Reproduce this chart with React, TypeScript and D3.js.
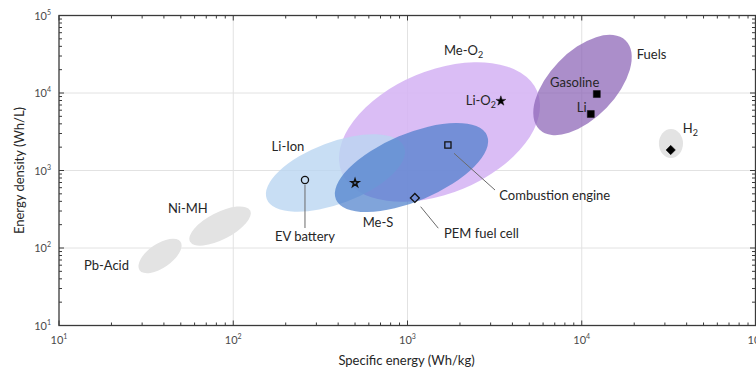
import React, { useEffect, useRef } from "react";
import * as d3 from "d3";

// Region ellipses: centre and one end of the major axis (Wh/kg, Wh/L), minor/major ratio
const regionNames = ["Pb-Acid", "Ni-MH", "H2", "Me-O2", "Li-Ion", "Me-S", "Fuels"];
const regionCx = [38, 84, 32500, 1526, 386, 1054, 10100];
const regionCy = [79, 192, 2230, 3140, 928, 1093, 12690];
const regionEx = [49.8, 125, 32500, 5551, 957, 2859, 17850];
const regionEy = [120.6, 304, 3432, 10520, 2004, 2829, 47720];
const regionRatio = [0.48, 0.4, 0.83, 0.58, 0.42, 0.41, 0.535];
const regionColors = ["#e3e3e3", "#e3e3e3", "#e3e3e3", "#d6b6f4", "#bad6f1", "#4479c8", "#8a62b6"];
const regionOpacity = [1, 1, 1, 0.9, 0.8, 0.68, 0.72];

// Point markers
const markerNames = ["EV battery", "Me-S", "Combustion engine", "PEM fuel cell", "Li-O2", "Gasoline", "Li", "H2"];
const markerX = [258, 500, 1706, 1102, 3434, 12200, 11270, 32400];
const markerY = [754, 690, 2133, 442, 7890, 9700, 5360, 1840];
const markerShape = ["circle", "starOpen", "square", "diamond", "star", "squareFilled", "squareFilled", "diamondFilled"];

// Text labels (anchor point in data units); sub = subscript
const labelText = ["Pb-Acid", "Ni-MH", "Li-Ion", "EV battery", "Me-S", "Me-O", "Li-O", "Gasoline", "Li", "Fuels", "H", "Combustion engine", "PEM fuel cell"];
const labelSub = ["", "", "", "", "", "2", "2", "", "", "", "2", "", ""];
const labelX = [13.9, 42.2, 166, 258, 553, 1620, 2158, 6575, 9355, 20680, 37960, 3364, 1620];
const labelY = [52, 283, 1811, 123, 185, 30930, 7000, 12060, 5737, 27220, 3075, 416, 133];
const labelAnchor = ["start", "start", "start", "middle", "start", "start", "start", "start", "start", "start", "start", "start", "start"];

// Leader lines from markers to their labels
const leaderX1 = [258, 1849, 1190];
const leaderY1 = [650, 1667, 341];
const leaderX2 = [258, 3178, 1502];
const leaderY2 = [181, 560, 180];

const decades = [1, 2, 3, 4, 5];

const App = () => {
  const svgRef = useRef<SVGSVGElement>(null);

  useEffect(() => {
    const svg = d3.select(svgRef.current);
    svg.selectAll("*").remove();

    const left = 59, right = 756, top = 15.5, bottom = 325.5;
    const x = d3.scaleLog().domain([10, 1e5]).range([left, right]);
    const y = d3.scaleLog().domain([10, 1e5]).range([bottom, top]);
    const font = "Lato, 'Open Sans', sans-serif";

    // grid
    const g = svg.append("g");
    [100, 1000, 10000].forEach((v) => {
      g.append("line").attr("x1", x(v)).attr("x2", x(v)).attr("y1", top).attr("y2", bottom)
        .attr("stroke", "#e2e2e2").attr("stroke-width", 1);
      g.append("line").attr("x1", left).attr("x2", right).attr("y1", y(v)).attr("y2", y(v))
        .attr("stroke", "#e2e2e2").attr("stroke-width", 1);
    });

    // region ellipses
    regionNames.forEach((name, i) => {
      const cx = x(regionCx[i]), cy = y(regionCy[i]);
      const ex = x(regionEx[i]), ey = y(regionEy[i]);
      const a = Math.hypot(ex - cx, ey - cy);
      const ang = (Math.atan2(ey - cy, ex - cx) * 180) / Math.PI;
      svg.append("ellipse")
        .attr("cx", 0).attr("cy", 0)
        .attr("rx", a).attr("ry", a * regionRatio[i])
        .attr("transform", `translate(${cx},${cy}) rotate(${ang})`)
        .attr("fill", regionColors[i])
        .attr("fill-opacity", regionOpacity[i]);
    });

    // leader lines
    leaderX1.forEach((_, i) => {
      svg.append("line")
        .attr("x1", x(leaderX1[i])).attr("y1", y(leaderY1[i]))
        .attr("x2", x(leaderX2[i])).attr("y2", y(leaderY2[i]))
        .attr("stroke", "#6b6b6b").attr("stroke-width", 1);
    });

    // markers
    markerNames.forEach((name, i) => {
      const px = x(markerX[i]), py = y(markerY[i]);
      const s = markerShape[i];
      let sym = d3.symbol().type(d3.symbolCircle).size(40);
      if (s.startsWith("square")) sym = d3.symbol().type(d3.symbolSquare).size(s === "square" ? 38 : 49);
      if (s.startsWith("diamond")) sym = d3.symbol().type(d3.symbolSquare).size(s === "diamond" ? 40 : 44);
      if (s.startsWith("star")) sym = d3.symbol().type(d3.symbolStar).size(s === "star" ? 30 : 18);
      const filled = s === "star" || s === "squareFilled" || s === "diamondFilled";
      const rot = s.startsWith("diamond") ? 45 : 0;
      svg.append("path")
        .attr("d", sym() as string)
        .attr("transform", `translate(${px},${py}) rotate(${rot})`)
        .attr("fill", filled ? "#000" : "none")
        .attr("stroke", "#111")
        .attr("stroke-width", filled ? 0.5 : s === "starOpen" ? 1.5 : 1.3);
    });

    // labels
    labelText.forEach((t, i) => {
      const txt = svg.append("text")
        .attr("x", x(labelX[i])).attr("y", y(labelY[i]))
        .attr("text-anchor", labelAnchor[i])
        .attr("font-family", font).attr("font-size", 13)
        .attr("fill", "#262626")
        .text(t);
      if (labelSub[i]) {
        txt.append("tspan").attr("dy", 3).attr("font-size", 9).text(labelSub[i]);
      }
    });

    // frame and ticks
    const axisColor = "#3a3a3a";
    svg.append("rect")
      .attr("x", left).attr("y", top).attr("width", right - 0.5 - left).attr("height", bottom - top)
      .attr("fill", "none").attr("stroke", axisColor).attr("stroke-width", 1.3);

    const ticks = x.ticks();
    ticks.forEach((v) => {
      const major = Math.abs(Math.log10(v) - Math.round(Math.log10(v))) < 1e-9;
      const len = major ? 5 : 3;
      svg.append("line").attr("x1", x(v)).attr("x2", x(v)).attr("y1", bottom).attr("y2", bottom - len)
        .attr("stroke", axisColor).attr("stroke-width", 1);
      svg.append("line").attr("x1", x(v)).attr("x2", x(v)).attr("y1", top).attr("y2", top + len)
        .attr("stroke", axisColor).attr("stroke-width", 1);
    });
    y.ticks().forEach((v) => {
      const major = Math.abs(Math.log10(v) - Math.round(Math.log10(v))) < 1e-9;
      const len = major ? 5 : 3;
      svg.append("line").attr("x1", left).attr("x2", left + len).attr("y1", y(v)).attr("y2", y(v))
        .attr("stroke", axisColor).attr("stroke-width", 1);
      svg.append("line").attr("x1", right - 1).attr("x2", right - 1 - len).attr("y1", y(v)).attr("y2", y(v))
        .attr("stroke", axisColor).attr("stroke-width", 1);
    });

    // tick labels
    decades.forEach((d) => {
      const v = Math.pow(10, d);
      const tx = svg.append("text")
        .attr("x", x(v)).attr("y", 344)
        .attr("text-anchor", "middle")
        .attr("font-family", font).attr("font-size", 11).attr("fill", "#4a4a4a")
        .text("10");
      tx.append("tspan").attr("dy", -5).attr("font-size", 7).text(String(d));
      const ty = svg.append("text")
        .attr("x", 51).attr("y", y(v) + 4)
        .attr("text-anchor", "end")
        .attr("font-family", font).attr("font-size", 11).attr("fill", "#4a4a4a")
        .text("10");
      ty.append("tspan").attr("dy", -5).attr("font-size", 7).text(String(d));
    });

    // axis titles
    svg.append("text")
      .attr("x", (left + right) / 2 - 1).attr("y", 365)
      .attr("text-anchor", "middle")
      .attr("font-family", font).attr("font-size", 13).attr("fill", "#262626")
      .text("Specific energy (Wh/kg)");
    svg.append("text")
      .attr("transform", `translate(24, ${(top + bottom) / 2}) rotate(-90)`)
      .attr("text-anchor", "middle")
      .attr("font-family", font).attr("font-size", 13).attr("fill", "#262626")
      .text("Energy density (Wh/L)");
  }, []);

  return (
    <svg
      ref={svgRef}
      width={756}
      height={372}
      style={{ position: "absolute", left: 0, top: 0, background: "#fff" }}
    />
  );
};

export default App;
